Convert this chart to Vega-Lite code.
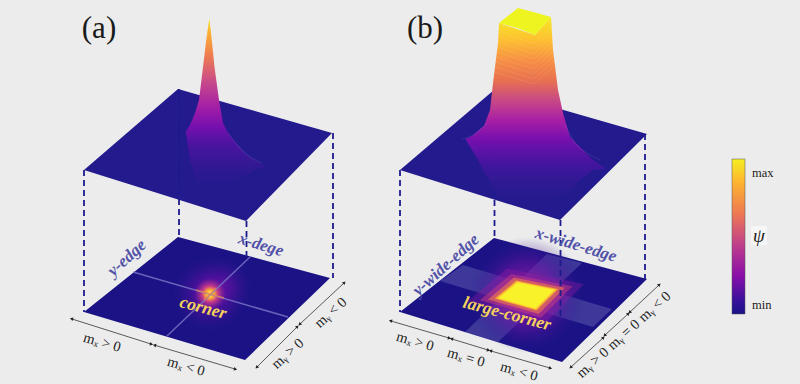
{
"$schema":"https://vega.github.io/schema/vega-lite/v6.json",
"width":800,"height":384,"padding":0,
"autosize":{"type":"none"},
"background":"#ececec",
"config":{"view":{"stroke":null}},
"datasets":{
"planes":[
{"s":"top","x":84,"y":170,"y2":170},{"s":"top","x":178,"y":89,"y2":199.6},{"s":"top","x":246,"y":108.4,"y2":221},{"s":"top","x":332,"y":133,"y2":133},
{"s":"top2","x":400,"y":170,"y2":170},{"s":"top2","x":494,"y":90,"y2":199.4},{"s":"top2","x":560,"y":109,"y2":220},{"s":"top2","x":647,"y":134,"y2":134}
],
"floors":[
{"s":"a","x":84,"y":312,"y2":312},{"s":"a","x":178,"y":237,"y2":340},{"s":"a","x":245,"y":255.1,"y2":360},{"s":"a","x":330,"y":278,"y2":278},
{"s":"b","x":400,"y":312,"y2":312},{"s":"b","x":494,"y":238,"y2":341},{"s":"b","x":562,"y":256.2,"y2":362},{"s":"b","x":647,"y":279,"y2":279}
],
"bands":[
{"s":"b1","x":465,"y":332,"y2":332},{"s":"b1","x":498,"y":300.6,"y2":342},{"s":"b1","x":547,"y":254,"y2":295.9},{"s":"b1","x":582,"y":263,"y2":263},
{"s":"b2","x":440,"y":281,"y2":281},{"s":"b2","x":463,"y":265,"y2":287.9},{"s":"b2","x":593,"y":303.4,"y2":327},{"s":"b2","x":612,"y":309,"y2":309}
],
"glowA":[{"x":170,"y":254,"y2":334},{"x":250,"y":254,"y2":334}],
"glowA2":[{"x":195,"y":255,"y2":315},{"x":255,"y":255,"y2":315}],
"glowB":[{"x":469,"y":237,"y2":353},{"x":585,"y":237,"y2":353}],
"halo":[
{"g":"s22","x":467.6,"y":301.6,"y2":301.6},{"g":"s22","x":507.2,"y":268.6,"y2":312.9},{"g":"s22","x":544.6,"y":276.1,"y2":323.6},{"g":"s22","x":584.2,"y":284,"y2":284},
{"g":"s175","x":479.8,"y":300.3,"y2":300.3},{"g":"s175","x":511.3,"y":274,"y2":309.2},{"g":"s175","x":541,"y":280,"y2":317.8},{"g":"s175","x":572.5,"y":286.3,"y2":286.3},
{"g":"s145","x":487.9,"y":299.4,"y2":299.4},{"g":"s145","x":514,"y":277.6,"y2":306.8},{"g":"s145","x":538.6,"y":282.5,"y2":313.9},{"g":"s145","x":564.7,"y":287.8,"y2":287.8},
{"g":"s12","x":494.6,"y":298.6,"y2":298.6},{"g":"s12","x":516.2,"y":280.6,"y2":304.8},{"g":"s12","x":536.6,"y":284.7,"y2":310.6},{"g":"s12","x":558.2,"y":289,"y2":289},
{"g":"s11","x":497.3,"y":298.3,"y2":298.3},{"g":"s11","x":517.1,"y":281.8,"y2":304},{"g":"s11","x":535.8,"y":285.5,"y2":309.3},{"g":"s11","x":555.6,"y":289.5,"y2":289.5}
],
"square":[{"x":500,"y":298,"y2":298},{"x":518,"y":283,"y2":303.1},{"x":535,"y":286.4,"y2":308},{"x":553,"y":290,"y2":290}],
"cap":[{"x":499,"y":23,"y2":23},{"x":518,"y":8,"y2":28.3},{"x":535,"y":12.6,"y2":35},{"x":551,"y":17,"y2":17}],
"peakA":[
{"x":186,"y":131,"y2":133},{"x":190,"y":125,"y2":160},{"x":195,"y":113,"y2":178},{"x":199,"y":100,"y2":190},{"x":203,"y":67,"y2":198},{"x":206,"y":42,"y2":200},{"x":209.3,"y":18,"y2":200},{"x":212,"y":42,"y2":200},{"x":214.5,"y":67,"y2":198},{"x":219,"y":100,"y2":195},{"x":223,"y":123,"y2":192},{"x":228,"y":133,"y2":188},{"x":235,"y":142,"y2":182},{"x":245,"y":153,"y2":176},{"x":255,"y":160,"y2":170},{"x":265,"y":166,"y2":167}
],
"peakB":[
{"x":466,"y":139,"y2":140},{"x":472,"y":136,"y2":150},{"x":478,"y":131,"y2":160},{"x":484,"y":126,"y2":172},{"x":490,"y":110,"y2":182},{"x":493,"y":83,"y2":190},{"x":498,"y":43,"y2":197},{"x":499,"y":23,"y2":199},{"x":535,"y":35,"y2":208},{"x":551,"y":17,"y2":205},{"x":553,"y":50,"y2":205},{"x":558,"y":90,"y2":200},{"x":563,"y":113,"y2":195},{"x":570,"y":137,"y2":190},{"x":580,"y":147,"y2":180},{"x":593,"y":160,"y2":170},{"x":605,"y":168,"y2":169}
],
"cross":[
{"s":"a1","x":133,"y":272},{"s":"a1","x":288,"y":317},
{"s":"a2","x":167,"y":336},{"s":"a2","x":250,"y":257}
],
"hot":[
{"s":"a1","x":196,"y":290},{"s":"a1","x":224,"y":298},
{"s":"a2","x":204,"y":300},{"s":"a2","x":216,"y":288}
],
"dashes":[
{"s":"1","x":84,"y":170},{"s":"1","x":84,"y":312},
{"s":"2","x":333,"y":133},{"s":"2","x":333,"y":278},
{"s":"3","x":179,"y":89},{"s":"3","x":179,"y":237},
{"s":"4","x":246.5,"y":221},{"s":"4","x":246.5,"y":256},
{"s":"5","x":400,"y":170},{"s":"5","x":400,"y":312},
{"s":"6","x":645,"y":134},{"s":"6","x":645,"y":279},
{"s":"7","x":494.5,"y":90},{"s":"7","x":494.5,"y":238},
{"s":"8","x":560.5,"y":220},{"s":"8","x":560.5,"y":316}
],
"streaks":[
{"s":"a1","x":228,"y":133},{"s":"a1","x":238,"y":146},{"s":"a1","x":250,"y":157},{"s":"a1","x":262,"y":163},
{"s":"b1","x":565,"y":125},{"s":"b1","x":575,"y":143},{"s":"b1","x":590,"y":155},{"s":"b1","x":600,"y":160},
{"s":"b2","x":462,"y":139},{"s":"b2","x":475,"y":134},{"s":"b2","x":487,"y":123}
],
"chev":[
{"k":1,"x":498.5,"y":32},{"k":1,"x":534,"y":44},{"k":1,"x":552,"y":26},
{"k":2,"x":498.3,"y":37},{"k":2,"x":534,"y":49},{"k":2,"x":552.2,"y":31},
{"k":3,"x":498,"y":42},{"k":3,"x":534,"y":54},{"k":3,"x":552.4,"y":36},
{"k":4,"x":497,"y":47},{"k":4,"x":534,"y":59},{"k":4,"x":552.6,"y":41},
{"k":5,"x":496.5,"y":52},{"k":5,"x":534,"y":64},{"k":5,"x":552.8,"y":46},
{"k":6,"x":496,"y":57},{"k":6,"x":534,"y":69},{"k":6,"x":553,"y":51},
{"k":7,"x":495.5,"y":62},{"k":7,"x":534,"y":74},{"k":7,"x":553.3,"y":56},
{"k":8,"x":495,"y":67},{"k":8,"x":534,"y":79},{"k":8,"x":553.7,"y":61},
{"k":9,"x":494.5,"y":72},{"k":9,"x":534,"y":84},{"k":9,"x":554,"y":66}
],
"arrows":[
{"s":"a","x":72,"y":319},{"s":"a","x":151,"y":344},
{"s":"b","x":155,"y":345.3},{"s":"b","x":235,"y":369},
{"s":"c","x":257,"y":367},{"s":"c","x":297,"y":327},
{"s":"d","x":300,"y":324},{"s":"d","x":344,"y":283},
{"s":"e","x":391,"y":321},{"s":"e","x":449,"y":338},
{"s":"f","x":452,"y":339},{"s":"f","x":488,"y":350},
{"s":"g","x":491,"y":351},{"s":"g","x":550,"y":368},
{"s":"h","x":571,"y":367},{"s":"h","x":603,"y":338},
{"s":"i","x":605,"y":335},{"s":"i","x":628,"y":314},
{"s":"j","x":630,"y":312},{"s":"j","x":659,"y":285}
],
"heads":[
{"d":"xb","x":72,"y":319},{"d":"xf","x":151,"y":344},{"d":"xb","x":155,"y":345.3},{"d":"xf","x":235,"y":369},
{"d":"yb","x":257,"y":367},{"d":"yf","x":297,"y":327},{"d":"yb","x":300,"y":324},{"d":"yf","x":344,"y":283},
{"d":"xb","x":391,"y":321},{"d":"xf","x":449,"y":338},{"d":"xb","x":452,"y":339},{"d":"xf","x":488,"y":350},{"d":"xb","x":491,"y":351},{"d":"xf","x":550,"y":368},
{"d":"yb","x":571,"y":367},{"d":"yf","x":603,"y":338},{"d":"yb","x":605,"y":335},{"d":"yf","x":628,"y":314},{"d":"yb","x":630,"y":312},{"d":"yf","x":659,"y":285}
],
"mlabels":[
{"t":"mₓ > 0","d":"mx","x":102,"y":343},{"t":"mₓ < 0","d":"mx","x":186,"y":367},
{"t":"mᵧ > 0","d":"my","x":288,"y":354},{"t":"mᵧ < 0","d":"my","x":331,"y":313},
{"t":"mₓ > 0","d":"mx","x":415,"y":342},{"t":"mₓ = 0","d":"mx","x":466,"y":358},{"t":"mₓ < 0","d":"mx","x":519,"y":372},
{"t":"mᵧ > 0","d":"my","x":593,"y":363},{"t":"mᵧ = 0","d":"my","x":624,"y":335},{"t":"mᵧ < 0","d":"my","x":655,"y":307}
],
"edges":[
{"t":"y-edge","d":"ey","x":127,"y":258},{"t":"x-dege","d":"ex","x":261,"y":245},
{"t":"y-wide-edge","d":"ey","x":446,"y":265},{"t":"x-wide-edge","d":"ex","x":576,"y":245}
],
"corners":[{"t":"corner","d":"cx","x":203,"y":308},{"t":"large-corner","d":"cx","x":507,"y":314}],
"titles":[{"t":"(a)","x":99,"y":29},{"t":"(b)","x":425,"y":29}],
"bar":[{"x":732,"x2":745,"y":159,"y2":314}],
"psiBox":[{"x":751,"x2":767,"y":226,"y2":245}],
"barText":[{"t":"max","x":752,"y":173},{"t":"min","x":752,"y":305}],
"psi":[{"t":"ψ","x":759,"y":236}]
},
"encoding":{
"x":{"field":"x","type":"quantitative","scale":{"domain":[0,800],"nice":false,"zero":false},"axis":null},
"y":{"field":"y","type":"quantitative","scale":{"domain":[384,0],"nice":false,"zero":false},"axis":null}
},
"layer":[
{"data":{"name":"floors"},"mark":{"type":"area","orient":"vertical","color":"#1a1285"},"encoding":{"y2":{"field":"y2"},"detail":{"field":"s"}}},
{"data":{"name":"glowA2"},"mark":{"type":"area","orient":"vertical","fill":{"gradient":"radial","x1":0.5,"y1":0.5,"r1":0,"x2":0.5,"y2":0.5,"r2":0.5,"stops":[{"offset":0,"color":"rgba(120,20,170,0.6)"},{"offset":1,"color":"rgba(40,20,140,0)"}]}},"encoding":{"y2":{"field":"y2"}}},
{"data":{"name":"glowA"},"mark":{"type":"area","orient":"vertical","fill":{"gradient":"radial","x1":0.5,"y1":0.5,"r1":0,"x2":0.5,"y2":0.5,"r2":0.5,"stops":[{"offset":0,"color":"#fff06a"},{"offset":0.1,"color":"#fdb030"},{"offset":0.2,"color":"#c83a8a"},{"offset":0.4,"color":"rgba(100,15,165,0.6)"},{"offset":1,"color":"rgba(40,20,140,0)"}]}},"encoding":{"y2":{"field":"y2"}}},
{"data":{"name":"cross"},"mark":{"type":"line","color":"#7d78c8","strokeWidth":1.5,"opacity":0.8},"encoding":{"detail":{"field":"s"}}},
{"data":{"name":"hot"},"mark":{"type":"line","color":"#f08a4a","strokeWidth":1.5,"opacity":0.7},"encoding":{"detail":{"field":"s"}}},
{"data":{"name":"bands"},"mark":{"type":"area","orient":"vertical","color":"#7d7cc0","opacity":0.36},"encoding":{"y2":{"field":"y2"},"detail":{"field":"s"}}},
{"data":{"name":"glowB"},"mark":{"type":"area","orient":"vertical","fill":{"gradient":"radial","x1":0.5,"y1":0.5,"r1":0,"x2":0.5,"y2":0.5,"r2":0.5,"stops":[{"offset":0,"color":"rgba(170,30,150,0.9)"},{"offset":0.55,"color":"rgba(110,20,165,0.55)"},{"offset":1,"color":"rgba(40,20,140,0)"}]}},"encoding":{"y2":{"field":"y2"}}},
{"data":{"name":"halo"},"mark":{"type":"area","orient":"vertical"},"encoding":{"y2":{"field":"y2"},"detail":{"field":"g"},"color":{"field":"g","type":"nominal","legend":null,"scale":{"type":"ordinal","domain":["s22","s175","s145","s12","s11"],"range":["rgba(150,30,160,0.35)","rgba(200,60,130,0.5)","rgba(235,115,80,0.65)","rgba(253,180,45,0.8)","#fde030"]}}}},
{"data":{"name":"square"},"mark":{"type":"area","orient":"vertical","color":"#f8f22a"},"encoding":{"y2":{"field":"y2"}}},
{"data":{"name":"planes"},"mark":{"type":"area","orient":"vertical","color":"#231a8e"},"encoding":{"y2":{"field":"y2"},"detail":{"field":"s"}}},
{"data":{"name":"dashes"},"mark":{"type":"line","color":"#1d1a8c","strokeWidth":1.8,"strokeDash":[6,4]},"encoding":{"detail":{"field":"s"}}},
{"data":{"name":"peakA"},"mark":{"type":"area","orient":"vertical","color":{"gradient":"linear","x1":0,"y1":0,"x2":0,"y2":1,"stops":[{"offset":0,"color":"#f5e926"},{"offset":0.07,"color":"#fdb42f"},{"offset":0.2,"color":"#ef7f4f"},{"offset":0.35,"color":"#c94a8a"},{"offset":0.5,"color":"#a01ca8"},{"offset":0.6,"color":"rgba(122,15,176,0.95)"},{"offset":0.7,"color":"rgba(100,16,170,0.6)"},{"offset":0.81,"color":"rgba(80,20,160,0.35)"},{"offset":1,"color":"rgba(35,26,142,0)"}]}},"encoding":{"y2":{"field":"y2"}}},
{"data":{"name":"peakB"},"mark":{"type":"area","orient":"vertical","color":{"gradient":"linear","x1":0,"y1":0,"x2":0,"y2":1,"stops":[{"offset":0,"color":"#f5e926"},{"offset":0.12,"color":"#fdc030"},{"offset":0.225,"color":"#f79044"},{"offset":0.33,"color":"#e8714f"},{"offset":0.435,"color":"#c84a85"},{"offset":0.54,"color":"#a81fa5"},{"offset":0.64,"color":"rgba(124,15,176,0.95)"},{"offset":0.775,"color":"rgba(88,18,168,0.6)"},{"offset":0.906,"color":"rgba(60,26,152,0.3)"},{"offset":1,"color":"rgba(35,26,142,0)"}]}},"encoding":{"y2":{"field":"y2"}}},
{"data":{"name":"chev"},"mark":{"type":"line","color":"#ffffff","strokeWidth":1,"opacity":0.09},"encoding":{"detail":{"field":"k"}}},
{"data":{"name":"cap"},"mark":{"type":"area","orient":"vertical","color":"#eef41f"},"encoding":{"y2":{"field":"y2"}}},
{"data":{"name":"streaks"},"mark":{"type":"line","color":"#b9a2e0","strokeWidth":1.2,"opacity":0.12,"interpolate":"monotone"},"encoding":{"detail":{"field":"s"}}},
{"data":{"name":"arrows"},"mark":{"type":"line","color":"#333333","strokeWidth":0.8},"encoding":{"detail":{"field":"s"}}},
{"data":{"name":"heads"},"mark":{"type":"point","shape":"triangle","filled":true,"color":"#222222","size":14,"opacity":1},"encoding":{"angle":{"field":"d","type":"nominal","legend":null,"scale":{"type":"ordinal","domain":["xf","xb","yf","yb","mx","my","ex","ey","cx"],"range":[107,287,45,225,16,318,17,318,15]}}}},
{"data":{"name":"mlabels"},"mark":{"type":"text","font":"Liberation Serif","fontSize":14.5,"color":"#222222","align":"center","baseline":"middle"},"encoding":{"text":{"field":"t"},"angle":{"field":"d","type":"nominal","legend":null,"scale":{"type":"ordinal","domain":["xf","xb","yf","yb","mx","my","ex","ey","cx"],"range":[107,287,45,225,16,318,17,318,15]}}}},
{"data":{"name":"edges"},"mark":{"type":"text","font":"Liberation Serif","fontSize":17,"fontStyle":"italic","fontWeight":"bold","color":"#5252a8","align":"center","baseline":"middle"},"encoding":{"text":{"field":"t"},"angle":{"field":"d","type":"nominal","legend":null,"scale":{"type":"ordinal","domain":["xf","xb","yf","yb","mx","my","ex","ey","cx"],"range":[107,287,45,225,16,318,17,318,15]}}}},
{"data":{"name":"corners"},"mark":{"type":"text","font":"Liberation Serif","fontSize":17.5,"fontStyle":"italic","fontWeight":"bold","color":"#f6d25c","align":"center","baseline":"middle"},"encoding":{"text":{"field":"t"},"angle":{"field":"d","type":"nominal","legend":null,"scale":{"type":"ordinal","domain":["xf","xb","yf","yb","mx","my","ex","ey","cx"],"range":[107,287,45,225,16,318,17,318,15]}}}},
{"data":{"name":"titles"},"mark":{"type":"text","font":"Liberation Serif","fontSize":31,"color":"#1a1a1a","align":"center","baseline":"middle"},"encoding":{"text":{"field":"t"}}},
{"data":{"name":"bar"},"mark":{"type":"rect","stroke":"#555555","strokeWidth":0.5,"color":{"gradient":"linear","x1":0,"y1":0,"x2":0,"y2":1,"stops":[{"offset":0,"color":"#f5ee22"},{"offset":0.15,"color":"#fdb42f"},{"offset":0.35,"color":"#ed7953"},{"offset":0.55,"color":"#c0408a"},{"offset":0.75,"color":"#8a0fa8"},{"offset":0.92,"color":"#36109a"},{"offset":1,"color":"#1a1285"}]}},"encoding":{"x2":{"field":"x2"},"y2":{"field":"y2"}}},
{"data":{"name":"psiBox"},"mark":{"type":"rect","color":"#f6f6f6"},"encoding":{"x2":{"field":"x2"},"y2":{"field":"y2"}}},
{"data":{"name":"barText"},"mark":{"type":"text","font":"Liberation Serif","fontSize":12.5,"color":"#222222","align":"left","baseline":"middle"},"encoding":{"text":{"field":"t"}}},
{"data":{"name":"psi"},"mark":{"type":"text","font":"Liberation Serif","fontSize":19,"fontStyle":"italic","color":"#222222","align":"center","baseline":"middle"},"encoding":{"text":{"field":"t"}}}
]
}
